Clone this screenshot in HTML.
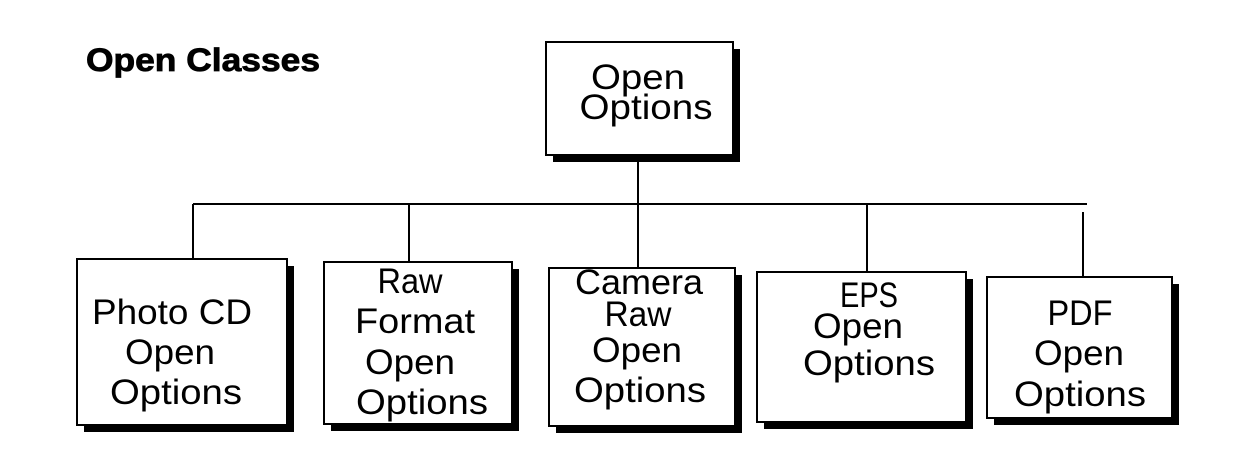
<!DOCTYPE html>
<html><head><meta charset="utf-8"><style>
html,body{margin:0;padding:0;background:#fff;width:1246px;height:468px;overflow:hidden}
svg{display:block}
text{font-family:"Liberation Sans",sans-serif;fill:#000;text-anchor:middle}
</style></head><body>
<svg width="1246" height="468" viewBox="0 0 1246 468" xmlns="http://www.w3.org/2000/svg">
<text x="86" y="71" style="text-anchor:start;font-weight:bold;font-size:32px;stroke:#000;stroke-width:0.8" textLength="234" lengthAdjust="spacingAndGlyphs">Open Classes</text>
<g stroke="#000" stroke-width="2" fill="none">
<line x1="638" y1="155" x2="638" y2="268"/>
<line x1="193" y1="204" x2="1087" y2="204"/>
<line x1="193" y1="204" x2="193" y2="259"/>
<line x1="409" y1="204" x2="409" y2="262"/>
<line x1="867" y1="204" x2="867" y2="272"/>
<line x1="1083" y1="212" x2="1083" y2="277"/>
</g>
<g>
<rect x="553" y="49" width="187" height="113" fill="#000"/>
<rect x="546" y="42" width="187" height="113" fill="#fff" stroke="#000" stroke-width="2"/>
<rect x="84" y="266" width="210" height="166" fill="#000"/>
<rect x="77" y="259" width="210" height="166" fill="#fff" stroke="#000" stroke-width="2"/>
<rect x="331" y="269" width="188" height="162" fill="#000"/>
<rect x="324" y="262" width="188" height="162" fill="#fff" stroke="#000" stroke-width="2"/>
<rect x="556" y="275" width="186" height="158" fill="#000"/>
<rect x="549" y="268" width="186" height="158" fill="#fff" stroke="#000" stroke-width="2"/>
<rect x="764" y="279" width="209" height="150" fill="#000"/>
<rect x="757" y="272" width="209" height="150" fill="#fff" stroke="#000" stroke-width="2"/>
<rect x="994" y="284" width="185" height="141" fill="#000"/>
<rect x="987" y="277" width="185" height="141" fill="#fff" stroke="#000" stroke-width="2"/>
</g>
<g style="font-size:35px" lengthAdjust="spacingAndGlyphs">
<text x="638" y="89" textLength="94" lengthAdjust="spacingAndGlyphs">Open</text>
<text x="646" y="119" textLength="133" lengthAdjust="spacingAndGlyphs">Options</text>
<text x="172" y="324" textLength="160" lengthAdjust="spacingAndGlyphs">Photo CD</text>
<text x="170" y="364" textLength="90" lengthAdjust="spacingAndGlyphs">Open</text>
<text x="176" y="404" textLength="132" lengthAdjust="spacingAndGlyphs">Options</text>
<text x="410" y="293" textLength="65" lengthAdjust="spacingAndGlyphs">Raw</text>
<text x="415" y="333" textLength="120" lengthAdjust="spacingAndGlyphs">Format</text>
<text x="410" y="374" textLength="90" lengthAdjust="spacingAndGlyphs">Open</text>
<text x="422" y="414" textLength="132" lengthAdjust="spacingAndGlyphs">Options</text>
<text x="639" y="294" textLength="128" lengthAdjust="spacingAndGlyphs">Camera</text>
<text x="638" y="326" textLength="67" lengthAdjust="spacingAndGlyphs">Raw</text>
<text x="637" y="362" textLength="90" lengthAdjust="spacingAndGlyphs">Open</text>
<text x="640" y="402" textLength="132" lengthAdjust="spacingAndGlyphs">Options</text>
<text x="869" y="307" textLength="58" lengthAdjust="spacingAndGlyphs">EPS</text>
<text x="858" y="338" textLength="90" lengthAdjust="spacingAndGlyphs">Open</text>
<text x="869" y="375" textLength="132" lengthAdjust="spacingAndGlyphs">Options</text>
<text x="1080" y="325" textLength="65" lengthAdjust="spacingAndGlyphs">PDF</text>
<text x="1079" y="365" textLength="90" lengthAdjust="spacingAndGlyphs">Open</text>
<text x="1080" y="406" textLength="132" lengthAdjust="spacingAndGlyphs">Options</text>
</g>
</svg>
</body></html>
